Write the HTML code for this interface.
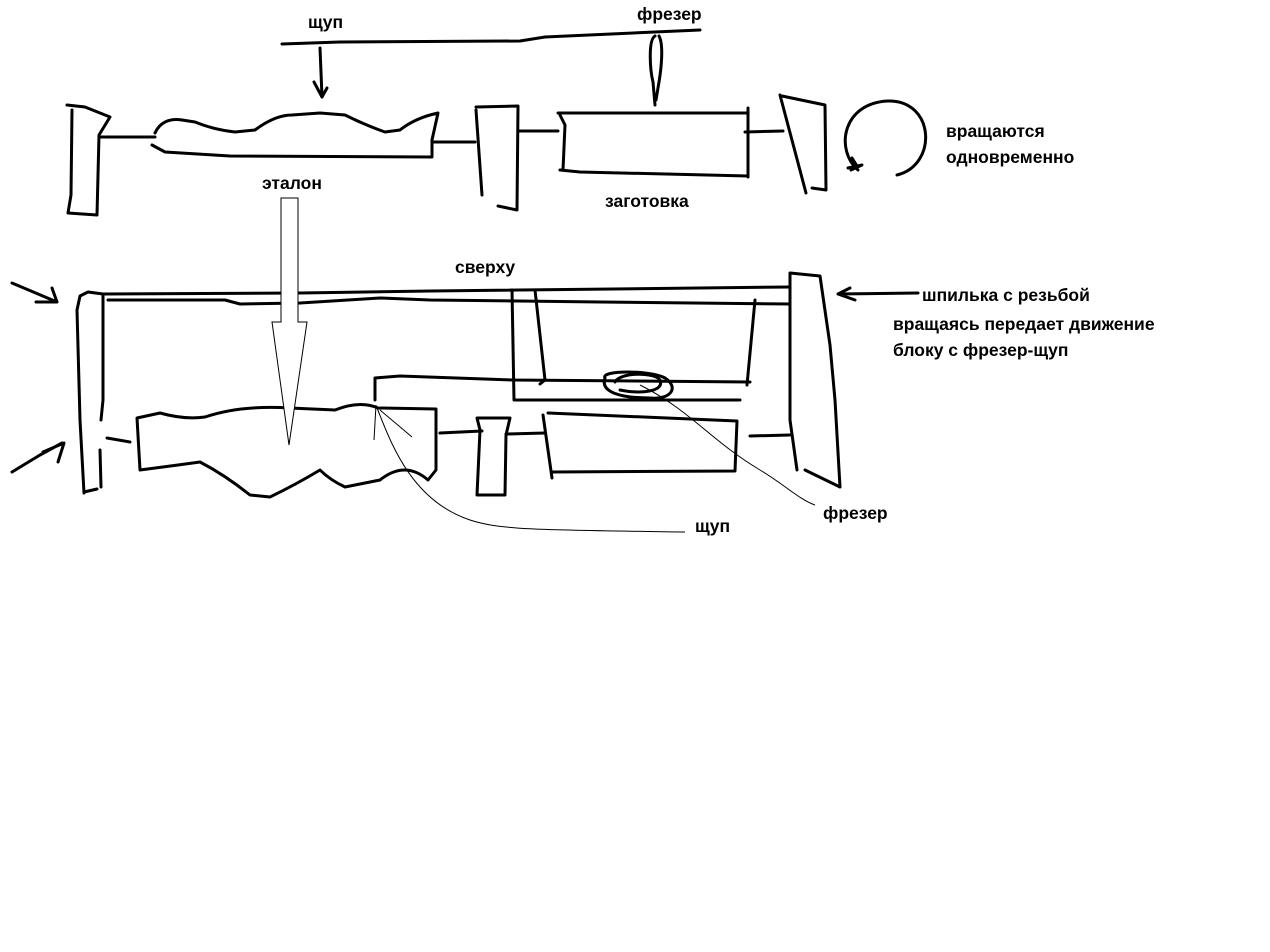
<!DOCTYPE html>
<html><head><meta charset="utf-8"><style>
html,body{margin:0;padding:0;background:#fff;}
svg{display:block;}
text{font-family:"Liberation Sans","DejaVu Sans",sans-serif;font-weight:bold;font-size:17.5px;fill:#000;}
</style></head><body>
<svg width="1270" height="952" viewBox="0 0 1270 952" xmlns="http://www.w3.org/2000/svg">
<g fill="none" stroke="#000" stroke-width="3" stroke-linejoin="round" stroke-linecap="round">
<path d="M282,44 L340,42 L520,41 L545,37 L700,30"/>
<path d="M320,48 L322,97 M314,82 L322,97 L327,88"/>
<path d="M655,36 C648,40 650,70 653,82 L655,105 M659,36 C664,45 661,70 659,82 L656,100"/>
<path d="M67,105 L85,107 L110,117 L99,135 L97,215 L68,213 L71,195 L72,110"/>
<path d="M99,137 L155,137"/>
<path d="M155,133 C160,122 170,118 182,120 L195,122 Q215,130 235,132 L255,130 Q275,115 292,115 L320,113 L345,115 Q365,125 385,132 L400,130 Q415,118 438,113 L432,140 L432,157 L230,156 L165,152 L152,145"/>
<path d="M432,142 L475,142"/>
<path d="M476,110 L482,195 M476,107 L518,106 L517,210 L498,206"/>
<path d="M518,131 L558,131"/>
<path d="M558,113 L748,113 M748,108 L748,177 M560,170 L580,172 L748,176 M560,115 L565,125 L563,170"/>
<path d="M745,132 L783,131"/>
<path d="M780,95 L806,193 M782,96 L825,105 L826,190 L812,188"/>
<path d="M858,170 C835,150 842,103 888,101 C935,100 938,165 897,175"/>
<path d="M848,168 L862,165 L851,170 M852,158 L857,166"/>
<path d="M12,283 L57,302 M36,302 L57,302 L52,288"/>
<path d="M12,472 L40,455 L62,443 M43,452 L64,443 L58,462"/>
<path d="M84,493 L80,420 L77,310 L80,296 L88,292 L103,294 L103,400 L101,420 M100,450 L101,487 M84,492 L97,489"/>
<path d="M103,294 L300,293 L430,291 L790,287"/>
<path d="M108,300 L225,300 L240,304 L300,303 L380,298 L430,300 L600,302 L790,304"/>
<path d="M790,273 L820,276 L830,345 L835,400 L840,487 L805,470 M790,273 L790,420 L797,470"/>
<path d="M838,294 L918,293 M850,288 L838,294 L855,300"/>
<path d="M512,290 L514,400 L740,400 M535,290 L545,380 L540,384 M755,300 L747,385"/>
<path d="M375,400 L375,378 L400,376 L513,380 L750,382"/>
<path d="M605,378 C600,370 650,370 665,378 C680,388 670,400 650,398 C620,398 600,392 605,378 Z"/>
<path d="M615,382 C620,372 655,372 660,380 C665,392 640,394 620,390"/>
<path d="M137,418 L160,413 Q185,420 205,417 Q240,405 290,408 L335,410 Q360,400 378,408 L436,409 L436,470 L428,480 Q405,460 380,480 L345,487 Q330,480 320,470 Q295,485 270,497 L250,495 Q225,475 200,462 L178,465 L140,470 Z"/>
<path d="M107,438 L130,442"/>
<path d="M440,433 L482,431"/>
<path d="M477,418 L510,418 L506,435 L505,495 L477,495 L480,430 Z"/>
<path d="M506,434 L545,433"/>
<path d="M548,413 L737,421 L735,471 L552,472 M543,415 L552,478"/>
<path d="M750,436 L790,435"/>
</g>
<g fill="none" stroke="#000" stroke-width="1">
<path d="M272,322 L281,322 L281,198 L298,198 L298,322 L307,322 L289,445 Z" fill="#fff"/>
<path d="M377,408 C390,440 410,500 470,520 C500,530 540,530 685,532"/>
<path d="M376,405 L374,440 M380,410 L412,437"/>
<path d="M640,385 C690,410 710,440 760,470 C785,485 800,500 815,505"/>
</g>
<text x="308" y="28">щуп</text>
<text x="637" y="20">фрезер</text>
<text x="946" y="137">вращаются</text>
<text x="946" y="163">одновременно</text>
<text x="605" y="207">заготовка</text>
<text x="262" y="189">эталон</text>
<text x="455" y="273">сверху</text>
<text x="922" y="301">шпилька с резьбой</text>
<text x="893" y="330">вращаясь передает движение</text>
<text x="893" y="356">блоку с фрезер-щуп</text>
<text x="695" y="532">щуп</text>
<text x="823" y="519">фрезер</text>
</svg>
</body></html>
